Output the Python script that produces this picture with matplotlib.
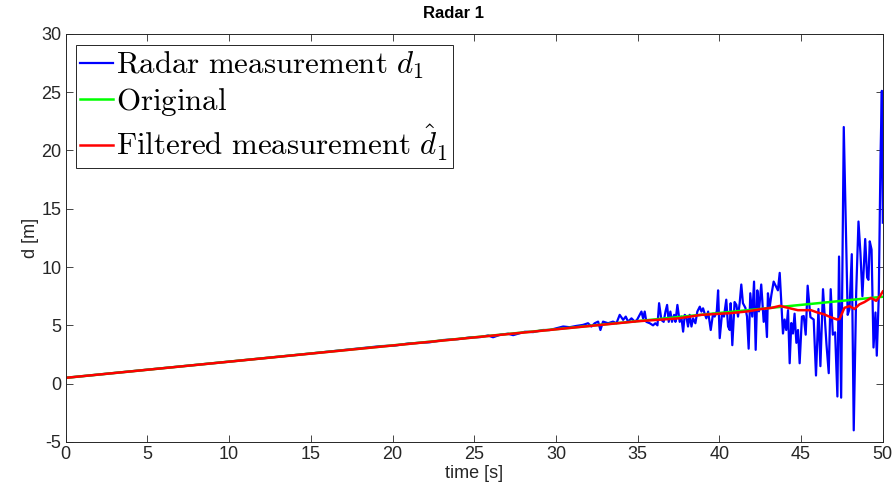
import matplotlib
matplotlib.use("Agg")
import matplotlib.pyplot as plt
from matplotlib import font_manager

# values
blue_t = [0, 5, 10, 15, 19.3, 20.1, 21.0, 22.28, 23.1, 24.0, 24.73, 25.4, 25.85, 26.15, 26.6,
          27.07, 27.38, 28.09, 28.6, 29.21, 29.62,
          30.03, 30.44, 30.84, 31.25, 31.66, 31.96, 32.17, 32.37, 32.58, 32.72, 32.88, 33.19,
          33.49, 33.70, 33.90, 34.11, 34.27, 34.41, 34.62, 34.82, 34.96,
          35.23, 35.33, 35.43, 35.53, 35.74, 35.94, 36.08, 36.21, 36.31, 36.45, 36.59, 36.70,
          36.80, 36.90, 37.00, 37.10, 37.23, 37.31, 37.43, 37.57, 37.67, 37.78, 37.88, 37.98,
          38.08, 38.18, 38.29, 38.39, 38.53, 38.65, 38.80, 38.90, 39.00, 39.10, 39.20, 39.31,
          39.47, 39.61, 39.71, 39.84, 39.92, 40.02,
          40.16, 40.28, 40.42, 40.53, 40.63, 40.69, 40.79, 40.93, 41.04, 41.14, 41.24, 41.34,
          41.44, 41.59, 41.69, 41.79, 41.89, 42.01, 42.12, 42.22, 42.32, 42.42, 42.56, 42.71,
          42.81, 42.91, 42.97, 43.07, 43.18, 43.32, 43.48, 43.58, 43.69, 43.79, 43.89, 43.99,
          44.09, 44.20, 44.30, 44.40, 44.50, 44.60, 44.71, 44.81, 44.91, 45.05,
          45.16, 45.28, 45.40, 45.57, 45.77, 45.91, 46.06, 46.18, 46.34, 46.55, 46.69, 46.81,
          46.94, 47.08, 47.22, 47.32, 47.45, 47.61, 47.85, 47.96, 48.10, 48.22, 48.37, 48.51,
          48.63, 48.75, 48.92, 49.04, 49.12, 49.20, 49.31, 49.43, 49.55, 49.63, 49.75, 49.86,
          49.94, 50.0]
blue_d = [0.5, 1.2, 1.89, 2.59, 3.22, 3.26, 3.45, 3.55, 3.74, 3.82, 3.96, 4.0, 4.13, 3.98, 4.2,
          4.28, 4.16, 4.45, 4.42, 4.6, 4.6,
          4.75, 4.9, 4.84, 4.95, 5.04, 5.18, 4.9, 5.18, 5.32, 4.6, 5.32, 5.18,
          5.32, 5.18, 5.9, 5.47, 5.75, 5.32, 5.6, 5.32, 5.47,
          6.18, 5.6, 6.18, 5.3, 5.18, 5.0, 5.18, 5.0, 6.9, 5.46, 5.3, 6.18,
          6.75, 5.3, 6.18, 5.3, 5.9, 5.3, 6.75, 5.3, 5.75, 4.46, 5.9, 5.75,
          4.9, 5.9, 4.9, 5.6, 5.18, 6.18, 6.6, 6.18, 6.46, 6.0, 5.6, 6.18,
          4.6, 6.0, 5.75, 6.2, 8.0, 3.9,
          6.0, 5.75, 7.2, 4.9, 4.6, 6.9, 3.3, 7.0, 6.75, 5.75, 6.9, 8.5,
          6.9, 6.5, 5.75, 3.0, 7.75, 5.75, 8.75, 2.9, 8.0, 6.2, 8.5, 5.3,
          6.3, 4.0, 7.75, 6.5, 7.6, 8.75, 8.3, 8.0, 9.5, 6.9, 4.3, 5.5,
          4.6, 6.3, 1.75, 5.2, 4.3, 6.0, 3.5, 4.6, 1.75, 5.75,
          5.8, 4.2, 8.4, 5.7, 5.5, 0.7, 6.4, 1.5, 8.1, 3.4, 0.9, 8.1,
          4.2, 4.4, -1.1, 10.9, -1.2, 22.0, 5.9, 6.4, 11.1, -4.0, 7.8, 13.9,
          11.2, 7.5, 12.4, 9.1, 8.9, 12.2, 11.5, 3.1, 6.1, 2.4, 7.4, 19.5,
          25.1, 13.8]

orig_t = [0, 50]
orig_d = [0.5, 7.45]

filt_t = [0, 35.0, 36.0, 37.5, 38.9, 40.1, 40.7, 41.75, 42.56, 43.2, 43.7, 44.2, 44.8, 45.6,
          46.0, 46.4, 46.8, 47.2, 47.35, 47.65, 47.96, 48.26, 48.57, 48.88, 49.28, 49.59,
          49.8, 50.0]
filt_d = [0.5, 5.35, 5.45, 5.6, 5.9, 6.0, 6.05, 6.2, 6.4, 6.5, 6.67, 6.5, 6.3, 6.3,
          6.1, 5.95, 5.7, 5.5, 5.55, 6.5, 6.65, 6.4, 6.8, 7.0, 7.35, 7.1,
          7.45, 7.9]

names = {f.name for f in font_manager.fontManager.ttflist}
sans = 'Liberation Sans Narrow' if 'Liberation Sans Narrow' in names else 'Liberation Sans'
plt.rcParams['font.family'] = [sans, 'DejaVu Sans']
plt.rcParams['mathtext.fontset'] = 'cm'
plt.rcParams['axes.unicode_minus'] = False

dark = '#262626'
fig = plt.figure(figsize=(8.96, 5), dpi=100)
ax = fig.add_axes([0.0733, 0.116, 0.912, 0.8166])

ax.plot(blue_t, blue_d, color=(0, 0, 1), lw=1.6, label=r'$\mathrm{Radar\ measurement}\ d_1$')
ax.plot(orig_t, orig_d, color=(0, 1, 0), lw=1.8, label=r'$\mathrm{Original}$')
ax.plot(filt_t, filt_d, color=(1, 0, 0), lw=1.8, label=r'$\mathrm{Filtered\ measurement}\ \hat{d}_1$')

ax.set_xlim(0, 50)
ax.set_ylim(-5, 30)
ax.set_xticks(range(0, 51, 5))
ax.set_yticks(range(-5, 31, 5))
ax.tick_params(direction='in', top=True, right=True, length=5, width=0.6,
               labelsize=13, colors=dark, pad=3)
for s in ax.spines.values():
    s.set_color(dark)
    s.set_linewidth(0.7)

ax.set_title('Radar 1', fontsize=12, fontweight='bold', color='black', pad=11, x=0.475)
ax.set_xlabel('time [s]', fontsize=13, color=dark, labelpad=1)
ax.set_ylabel('d [m]', fontsize=13, color=dark, labelpad=2)

leg = ax.legend(loc='upper left', bbox_to_anchor=(0.0122, 0.972), borderaxespad=0,
                fontsize=22.3, handlelength=1.05, handletextpad=0.1, borderpad=0.15,
                labelspacing=0.16, fancybox=False, framealpha=1)
leg.get_frame().set_edgecolor(dark)
leg.get_frame().set_linewidth(0.7)

fig.savefig('out.png', dpi=100)
